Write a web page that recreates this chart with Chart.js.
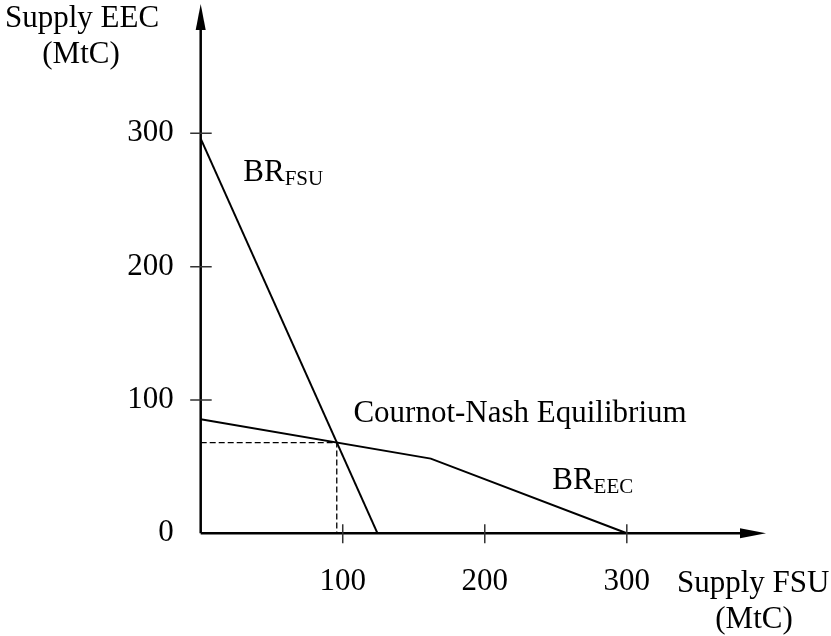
<!DOCTYPE html>
<html>
<head>
<meta charset="utf-8">
<script src="https://cdn.jsdelivr.net/npm/chart.js@4"></script>
<style>
  body { margin: 0; background: #fff; }
</style>
</head>
<body>
<canvas id="chart" width="831" height="636"></canvas>
<script>
// Best responses (MtC)
const brFsuX = [0, 124.5];
const brFsuY = [296, 0];
const brEecX = [0, 162, 300];
const brEecY = [85.5, 56, 0];
// Cournot-Nash point with its dashed guides
const eqX = [0, 95.8, 95.8];
const eqY = [68, 68, 0];

const xTicks = [100, 200, 300];
const yTicks = [0, 100, 200, 300];

const FONT = '"Liberation Serif", "Times New Roman", serif';

function pts(xs, ys) {
    return xs.map((x, i) => ({ x: x, y: ys[i] }));
}

// axes with arrows, crossing tick marks and the text labels
const axesPlugin = {
    id: 'axes',
    afterDatasetsDraw(chart) {
        const ctx = chart.ctx;
        const xs = chart.scales.x, ys = chart.scales.y;
        const ox = xs.getPixelForValue(0), oy = ys.getPixelForValue(0);
        const top = chart.chartArea.top, right = chart.chartArea.right;
        ctx.save();
        ctx.strokeStyle = '#000';
        ctx.fillStyle = '#000';
        ctx.lineWidth = 2.5;
        ctx.beginPath();
        ctx.moveTo(ox, oy);
        ctx.lineTo(ox, top + 24);
        ctx.moveTo(ox, oy);
        ctx.lineTo(right - 24, oy);
        ctx.stroke();
        // arrow heads
        ctx.beginPath();
        ctx.moveTo(ox, top);
        ctx.lineTo(ox - 5, top + 26);
        ctx.lineTo(ox + 5, top + 26);
        ctx.closePath();
        ctx.fill();
        ctx.beginPath();
        ctx.moveTo(right, oy);
        ctx.lineTo(right - 26, oy - 5);
        ctx.lineTo(right - 26, oy + 5);
        ctx.closePath();
        ctx.fill();

        // tick marks
        ctx.strokeStyle = '#333';
        ctx.lineWidth = 1.5;
        ctx.beginPath();
        xTicks.forEach(v => {
            const px = xs.getPixelForValue(v);
            ctx.moveTo(px, oy - 9);
            ctx.lineTo(px, oy + 10);
        });
        yTicks.filter(v => v > 0).forEach(v => {
            const py = ys.getPixelForValue(v);
            ctx.moveTo(ox - 10.5, py);
            ctx.lineTo(ox + 11, py);
        });
        ctx.stroke();

        // axis titles
        ctx.font = '31px ' + FONT;
        ctx.textBaseline = 'alphabetic';
        ctx.textAlign = 'center';
        ctx.fillText('Supply EEC', 82, 27);
        ctx.fillText('(MtC)', 81, 63);
        ctx.textAlign = 'left';
        ctx.fillText('Supply FSU', 677, 592);
        ctx.textAlign = 'center';
        ctx.fillText('(MtC)', 754, 628);

        // curve labels
        const sub = (main, small, vx, vy) => {
            const px = xs.getPixelForValue(vx), py = ys.getPixelForValue(vy);
            ctx.textAlign = 'left';
            ctx.font = '31px ' + FONT;
            ctx.fillText(main, px, py);
            const w = ctx.measureText(main).width;
            ctx.font = '21px ' + FONT;
            ctx.fillText(small, px + w, py + 4);
        };
        sub('BR', 'FSU', 30, 264);
        sub('BR', 'EEC', 247.5, 33);
        ctx.font = '31px ' + FONT;
        ctx.textAlign = 'left';
        ctx.fillText('Cournot-Nash Equilibrium', xs.getPixelForValue(107.5), ys.getPixelForValue(83.5));
        ctx.restore();
    }
};

const lineStyle = {
    showLine: true,
    borderColor: '#000',
    borderWidth: 2,
    pointRadius: 0,
    fill: false,
    clip: false,
    tension: 0
};

new Chart(document.getElementById('chart'), {
    type: 'scatter',
    data: {
        datasets: [
            Object.assign({ label: 'BR FSU', data: pts(brFsuX, brFsuY) }, lineStyle),
            Object.assign({ label: 'BR EEC', data: pts(brEecX, brEecY) }, lineStyle),
            Object.assign({ label: 'Equilibrium', data: pts(eqX, eqY) }, lineStyle,
                { borderWidth: 1.3, borderDash: [6, 3] })
        ]
    },
    options: {
        responsive: false,
        animation: false,
        layout: { padding: { top: 4, right: 65, left: 0, bottom: 0 } },
        plugins: {
            legend: { display: false },
            tooltip: { enabled: false }
        },
        scales: {
            x: {
                type: 'linear',
                min: 0,
                max: 398,
                border: { display: false },
                grid: { display: false, drawTicks: false },
                afterBuildTicks: s => { s.ticks = xTicks.map(v => ({ value: v })); },
                afterFit: s => {
                    s.height = 102.7;
                    s.paddingLeft = 0; s.paddingRight = 0;
                },
                ticks: {
                    color: '#000',
                    padding: 30,
                    maxRotation: 0,
                    font: { family: FONT, size: 31 }
                }
            },
            y: {
                type: 'linear',
                min: 0,
                max: 397,
                border: { display: false },
                grid: { display: false, drawTicks: false },
                afterBuildTicks: s => { s.ticks = yTicks.map(v => ({ value: v })); },
                afterFit: s => {
                    s.width = 200.7;
                    s.paddingTop = 0; s.paddingBottom = 0;
                },
                ticks: {
                    color: '#000',
                    padding: 27,
                    font: { family: FONT, size: 31 }
                }
            }
        }
    },
    plugins: [axesPlugin]
});
</script>
</body>
</html>
